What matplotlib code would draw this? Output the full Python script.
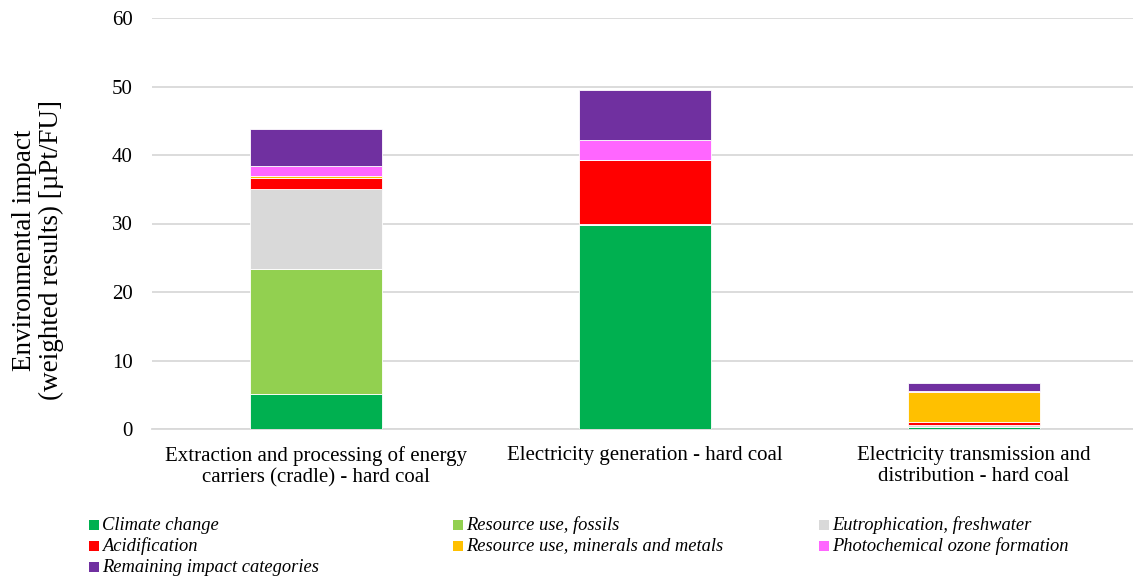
import matplotlib
matplotlib.use("Agg")
import matplotlib.pyplot as plt
from matplotlib.patches import Rectangle
import numpy as np

plt.rcParams['font.family'] = ['Liberation Serif', 'DejaVu Serif']

stages = [
    "Extraction and processing of energy\ncarriers (cradle) - hard coal",
    "Electricity generation - hard coal",
    "Electricity transmission and\ndistribution - hard coal",
]

categories = [
    "Climate change",
    "Resource use, fossils",
    "Eutrophication, freshwater",
    "Acidification",
    "Resource use, minerals and metals",
    "Photochemical ozone formation",
    "Remaining impact categories",
]
colors = ["#00B050", "#92D050", "#D9D9D9", "#FF0000", "#FFC000", "#FF66FF", "#7030A0"]

climate_change = [5.1, 29.8, 0.25]
resource_fossils = [18.3, 0.0, 0.05]
eutrophication = [11.6, 0.2, 0.35]
acidification = [1.7, 9.3, 0.3]
resource_minerals = [0.25, 0.0, 4.5]
photochemical = [1.5, 2.9, 0.05]
remaining = [5.3, 7.3, 1.15]

series = [climate_change, resource_fossils, eutrophication, acidification,
          resource_minerals, photochemical, remaining]

W, H = 1133, 581
fig = plt.figure(figsize=(W / 100, H / 100), dpi=100)
ax = fig.add_axes([151.5 / W, 1 - 429 / H, (1133 - 151.5) / W, (429 - 18) / H])

x = np.arange(len(stages))
bottom = np.zeros(len(stages))
for vals, col in zip(series, colors):
    ax.bar(x, vals, width=0.4, bottom=bottom, color=col,
           edgecolor="white", linewidth=0.6, zorder=3)
    bottom += np.array(vals)

ax.set_xlim(-0.5, 2 + (1133 - 974) / 329)
ax.set_ylim(0, 60)
ax.set_yticks(np.arange(0, 61, 10))
ax.grid(axis="y", color="#D9D9D9", linewidth=1.3, zorder=0)
for s in ["top", "right", "left"]:
    ax.spines[s].set_visible(False)
ax.spines["bottom"].set_color("#D9D9D9")
ax.spines["bottom"].set_linewidth(1.3)
ax.tick_params(axis="both", length=0, labelsize=15, colors="black")
ax.tick_params(axis="y", pad=13.5)
ax.tick_params(axis="x", pad=12)
ax.set_xticks(x)
ax.set_xticklabels(stages, linespacing=1.2)

fig.text(38 / W, 1 - 250 / H, "Environmental impact\n(weighted results) [µPt/FU]",
         rotation=90, fontsize=19.5, linespacing=1.1, ha="center", va="center",
         multialignment="center")

# legend laid out in three columns, filled row by row
col_x = [89, 453, 819]
row_y = [525, 546, 567]
for i, (name, col) in enumerate(zip(categories, colors)):
    r, c = divmod(i, 3)
    px, py = col_x[c], row_y[r]
    fig.patches.append(Rectangle((px / W, 1 - (py + 5) / H), 10 / W, 10 / H,
                                 transform=fig.transFigure, facecolor=col,
                                 edgecolor="none"))
    fig.text((px + 13) / W, 1 - py / H, name, fontsize=13.3, style="italic",
             va="center", ha="left")

fig.savefig("out.png", dpi=100)
